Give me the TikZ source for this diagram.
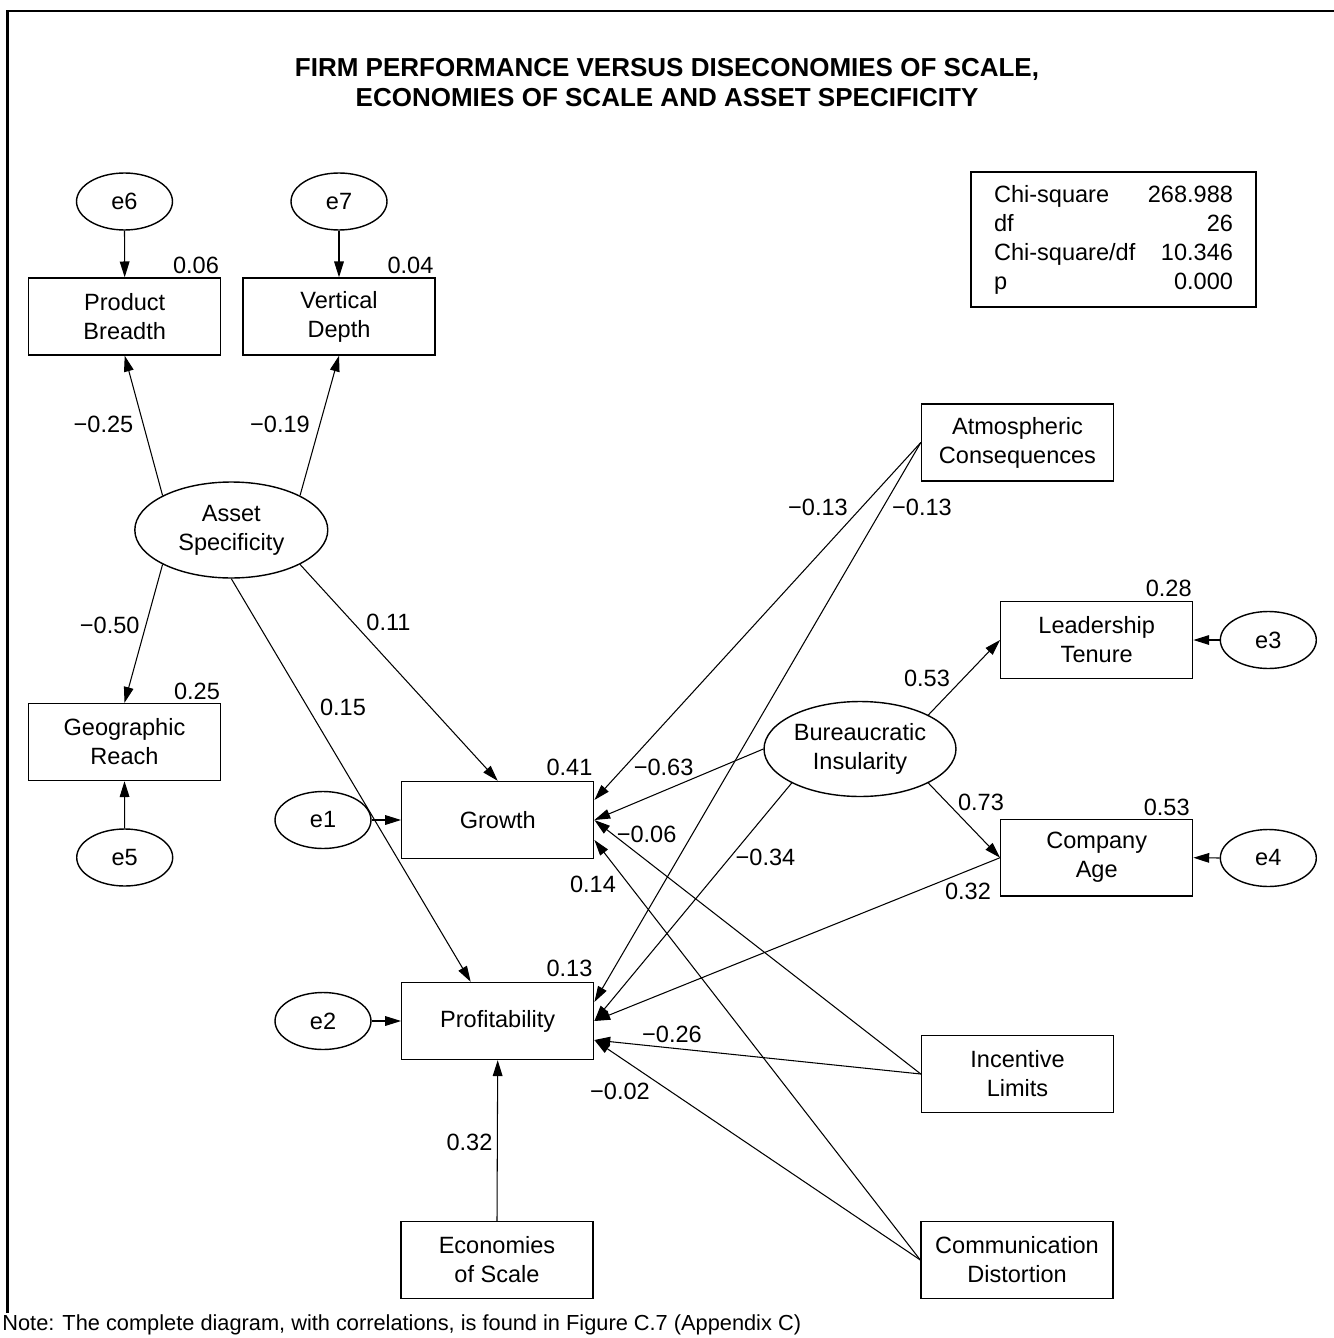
\documentclass[tikz,border=0pt]{standalone}
\usepackage{fontspec}
\setmainfont{Liberation Sans}
\usetikzlibrary{arrows.meta}
\usetikzlibrary{calc}
\usetikzlibrary{shapes.geometric}

\begin{document}
\begin{tikzpicture}[x=0.02cm, y=-0.02cm,
  every node/.append style={font=\fontsize{13.4}{16.5}\selectfont, inner sep=0pt},
  obs/.style={draw, line width=0.8pt, rectangle, minimum width=3.84cm, minimum height=1.54cm, align=center},
  lat/.style={draw, line width=0.8pt, ellipse, minimum width=3.86cm, minimum height=1.92cm, align=center},
  err/.style={draw, line width=0.8pt, ellipse, minimum width=1.92cm, minimum height=1.14cm},
  reg/.style={line width=0.6pt, -{Triangle[length=9pt, width=5.5pt]}}]
  \useasboundingbox (0,0) rectangle (1334,1338);
  \draw[line width=1.7pt] (7.5,1313) -- (7.5,11) -- (1334,11);
  \node[font=\bfseries\fontsize{14.8}{17.07}\selectfont, align=center] (title) at (667,83)
    {FIRM PERFORMANCE VERSUS DISECONOMIES OF SCALE,\\ECONOMIES OF SCALE AND ASSET SPECIFICITY};
  \node[draw, line width=0.8pt, text width=136pt, align=left, inner xsep=13.1pt, minimum height=76.8pt] (fit) at (1113.5,239.5)
    {Chi-square\hfill 268.988\\df\hfill 26\\Chi-square/df\hfill 10.346\\p\hfill 0.000};
  % measurement model
  \node[err] (e6) at (124.5,201.5) {e6};
  \node[err] (e7) at (339,201.5) {e7};
  \node[obs] (PB) at (124.7,316.5) {Product\\Breadth};
  \node[obs] (VD) at (339,316.5) {Vertical\\Depth};
  \node[lat] (AS) at (231.3,530) {Asset\\Specificity};
  \node[obs] (GR) at (124.5,742) {Geographic\\Reach};
  \node[err] (e5) at (124.7,857.5) {e5};
  % outcomes
  \node[err] (e1) at (323,820) {e1};
  \node[obs] (Gr) at (497.7,820) {Growth};
  \node[err] (e2) at (323,1021) {e2};
  \node[obs] (Pr) at (497.7,1021) {Profitability};
  \node[obs] (ES) at (497,1260) {Economies\\of Scale};
  % diseconomies
  \node[obs] (AC) at (1017.5,442.5) {Atmospheric\\Consequences};
  \node[lat, minimum width=3.84cm, minimum height=1.9cm] (BI) at (860,749) {Bureaucratic\\Insularity};
  \node[obs] (LT) at (1096.7,640) {Leadership\\Tenure};
  \node[err] (e3) at (1268.3,640) {e3};
  \node[obs] (CA) at (1096.7,857.7) {Company\\Age};
  \node[err] (e4) at (1268.3,858) {e4};
  \node[obs] (IL) at (1017.5,1074) {Incentive\\Limits};
  \node[obs] (CD) at (1017,1260) {Communication\\Distortion};
  \coordinate (GrA) at ($(Gr.east)+(0,-20)$);
  \coordinate (GrC) at ($(Gr.east)+(0,20)$);
  \coordinate (PrA) at ($(Pr.east)+(0,-19)$);
  \coordinate (PrC) at ($(Pr.east)+(0,19)$);
  \coordinate (PrT) at ($(Pr.north)+(-27,0)$);
  \draw[reg] (e6.south) -- (PB.north);
  \draw[reg] (e7.south) -- (VD.north);
  \draw[reg] (AS.north west) -- (PB.south);
  \draw[reg] (AS.north east) -- (VD.south);
  \draw[reg] (AS.south west) -- (GR.north);
  \draw[reg] (e5.north) -- (GR.south);
  \draw[reg] (AS.south east) -- (Gr.north);
  \draw[reg] (AS.south) -- (PrT);
  \draw[reg] (e1.east) -- (Gr.west);
  \draw[reg] (e2.east) -- (Pr.west);
  \draw[reg] (ES.north) -- (Pr.south);
  \draw[reg] (AC.west) -- (GrA);
  \draw[reg] (AC.west) -- (PrA);
  \draw[reg] (BI.west) -- (Gr.east);
  \draw[reg] (BI.south west) -- (Pr.east);
  \draw[reg] (BI.north east) -- (LT.west);
  \draw[reg] (BI.south east) -- (CA.west);
  \draw[reg] (e3.west) -- (LT.east);
  \draw[reg] (e4.west) -- (CA.east);
  \draw[reg] (CA.west) -- (Pr.east);
  \draw[reg] (IL.west) -- (Gr.east);
  \draw[reg] (IL.west) -- (PrC);
  \draw[reg] (CD.west) -- (GrC);
  \draw[reg] (CD.west) -- (PrC);
  % estimates
  \node (r6) at (196,265) {0.06};
  \node (r7) at (410.5,265) {0.04};
  \node (wPB) at (103.5,424) {−0.25};
  \node (wVD) at (280,424) {−0.19};
  \node (wGR) at (109.7,625) {−0.50};
  \node (r5) at (197,691) {0.25};
  \node (wASg) at (388.5,622) {0.11};
  \node (wASp) at (343,707) {0.15};
  \node (r1) at (569.5,767) {0.41};
  \node (r2) at (569.5,968) {0.13};
  \node (wACg) at (818,507) {−0.13};
  \node (wACp) at (922,507) {−0.13};
  \node (r3) at (1168.7,588) {0.28};
  \node (wLT) at (927,678) {0.53};
  \node (wCA) at (981,802) {0.73};
  \node (r4) at (1166.7,807) {0.53};
  \node (wBIg) at (663.6,767) {−0.63};
  \node (wILg) at (646.6,834) {−0.06};
  \node (wCDg) at (593,884) {0.14};
  \node (wBIp) at (765.5,857) {−0.34};
  \node (wCAp) at (968,891) {0.32};
  \node (wILp) at (672,1034) {−0.26};
  \node (wCDp) at (620,1091) {−0.02};
  \node (wESp) at (469.5,1142) {0.32};
  \node[anchor=base west, font=\fontsize{12.4}{15}\selectfont] (note) at (2,1330)
    {Note: The complete diagram, with correlations, is found in Figure C.7 (Appendix C)};
\end{tikzpicture}
\end{document}
